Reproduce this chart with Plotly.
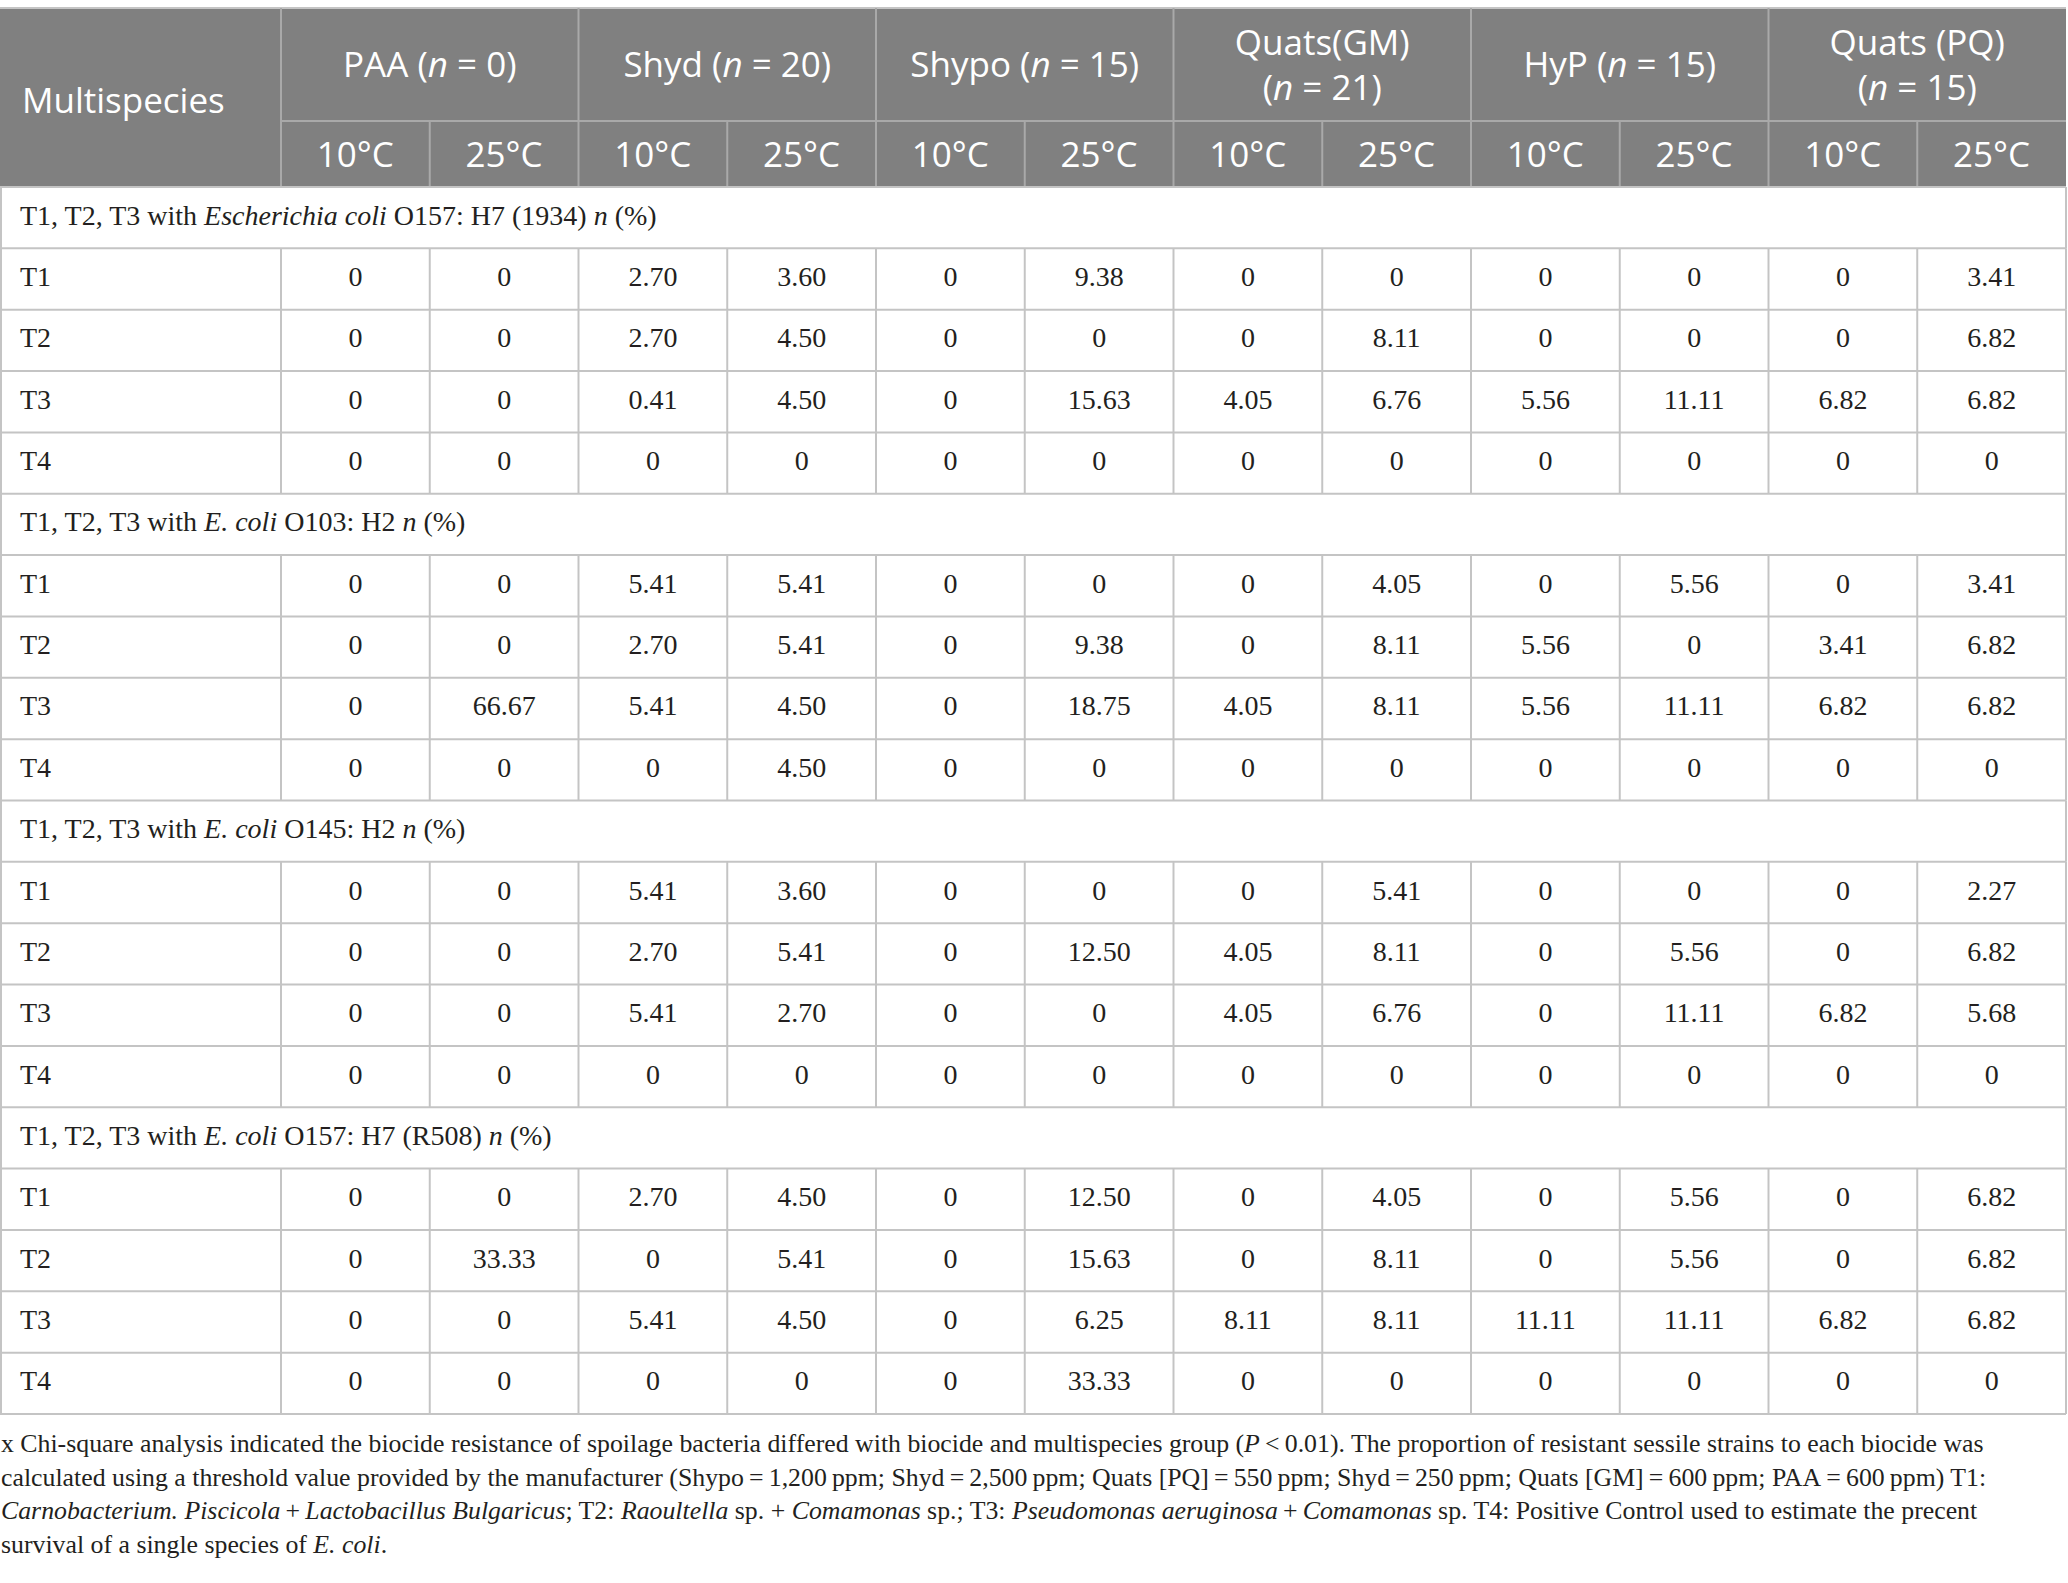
import plotly.graph_objects as go

# ---- data ----
biocides = ["PAA (<i>n</i> = 0)", "Shyd (<i>n</i> = 20)", "Shypo (<i>n</i> = 15)",
            "Quats(GM)<br>(<i>n</i> = 21)", "HyP (<i>n</i> = 15)", "Quats (PQ)<br>(<i>n</i> = 15)"]
temps = ["10°C", "25°C"]
treatments = ["T1", "T2", "T3", "T4"]
groups = [
    "T1, T2, T3 with <i>Escherichia coli</i> O157: H7 (1934) <i>n</i> (%)",
    "T1, T2, T3 with <i>E. coli</i> O103: H2 <i>n</i> (%)",
    "T1, T2, T3 with <i>E. coli</i> O145: H2 <i>n</i> (%)",
    "T1, T2, T3 with <i>E. coli</i> O157: H7 (R508) <i>n</i> (%)",
]
o157_1934 = [
    ["0", "0", "2.70", "3.60", "0", "9.38", "0", "0", "0", "0", "0", "3.41"],
    ["0", "0", "2.70", "4.50", "0", "0", "0", "8.11", "0", "0", "0", "6.82"],
    ["0", "0", "0.41", "4.50", "0", "15.63", "4.05", "6.76", "5.56", "11.11", "6.82", "6.82"],
    ["0", "0", "0", "0", "0", "0", "0", "0", "0", "0", "0", "0"],
]
o103 = [
    ["0", "0", "5.41", "5.41", "0", "0", "0", "4.05", "0", "5.56", "0", "3.41"],
    ["0", "0", "2.70", "5.41", "0", "9.38", "0", "8.11", "5.56", "0", "3.41", "6.82"],
    ["0", "66.67", "5.41", "4.50", "0", "18.75", "4.05", "8.11", "5.56", "11.11", "6.82", "6.82"],
    ["0", "0", "0", "4.50", "0", "0", "0", "0", "0", "0", "0", "0"],
]
o145 = [
    ["0", "0", "5.41", "3.60", "0", "0", "0", "5.41", "0", "0", "0", "2.27"],
    ["0", "0", "2.70", "5.41", "0", "12.50", "4.05", "8.11", "0", "5.56", "0", "6.82"],
    ["0", "0", "5.41", "2.70", "0", "0", "4.05", "6.76", "0", "11.11", "6.82", "5.68"],
    ["0", "0", "0", "0", "0", "0", "0", "0", "0", "0", "0", "0"],
]
o157_r508 = [
    ["0", "0", "2.70", "4.50", "0", "12.50", "0", "4.05", "0", "5.56", "0", "6.82"],
    ["0", "33.33", "0", "5.41", "0", "15.63", "0", "8.11", "0", "5.56", "0", "6.82"],
    ["0", "0", "5.41", "4.50", "0", "6.25", "8.11", "8.11", "11.11", "11.11", "6.82", "6.82"],
    ["0", "0", "0", "0", "0", "33.33", "0", "0", "0", "0", "0", "0"],
]
group_values = [o157_1934, o103, o145, o157_r508]
footnote = [
    "x Chi-square analysis indicated the biocide resistance of spoilage bacteria differed with biocide and "
    "multispecies group (<i>P</i>\u2009&lt;\u20090.01). The proportion of resistant sessile strains to each biocide was",
    "calculated using a threshold value provided by the manufacturer (Shypo\u2009=\u20091,200\u2009ppm; "
    "Shyd\u2009=\u20092,500\u2009ppm; Quats [PQ]\u2009=\u2009550\u2009ppm; Shyd\u2009=\u2009250\u2009ppm; "
    "Quats [GM]\u2009=\u2009600\u2009ppm; PAA\u2009=\u2009600\u2009ppm) T1:",
    "<i>Carnobacterium. Piscicola</i>\u2009+\u2009<i>Lactobacillus Bulgaricus</i>; T2: <i>Raoultella</i> sp. + "
    "<i>Comamonas</i> sp.; T3: <i>Pseudomonas aeruginosa</i>\u2009+\u2009<i>Comamonas</i> sp. "
    "T4: Positive Control used to estimate the precent",
    "survival of a single species of <i>E. coli</i>.",
]

# ---- layout geometry (pixels) ----
W, H = 2068, 1583
left_w = 281
right = 2066
ncol = len(biocides) * len(temps)
cw = (right - left_w) / ncol
xe = [0, left_w] + [left_w + cw * (k + 1) for k in range(ncol)]
top, hsplit, hbot = 8, 121, 187
rh = 61.35
head_dy = 4  # header text sits a little low in its cells
foot_y0, foot_dy = 1446, 33.4

HEAD_BG = "#808080"
HEAD_LINE = "#a9a9a9"
GRID = "#c4c4c4"
TXT = "#231f20"
SANS = "Open Sans"
SERIF = "Liberation Serif"

fig = go.Figure()
shapes = []


def hline(x0, x1, y, color):
    shapes.append(dict(type="line", x0=x0, x1=x1, y0=y, y1=y, line=dict(color=color, width=2)))


def vline(x, y0, y1, color):
    shapes.append(dict(type="line", x0=x, x1=x, y0=y0, y1=y1, line=dict(color=color, width=2)))


# header block
shapes.append(dict(type="rect", x0=0, x1=right, y0=top, y1=hbot, fillcolor=HEAD_BG, line=dict(width=0), layer="below"))
hline(0, right, top, GRID)
hline(left_w, right, hsplit, HEAD_LINE)
for k in range(1, ncol + 1):
    if (k - 1) % 2 == 0:
        vline(xe[k], top, hbot, HEAD_LINE)
    else:
        vline(xe[k], hsplit, hbot, HEAD_LINE)
hline(0, right, hbot, GRID)

# body rows
rows = []  # (kind, label, values)
for g, label in enumerate(groups):
    rows.append(("group", label, None))
    for t, tr in enumerate(treatments):
        rows.append(("data", tr, group_values[g][t]))

y = hbot
row_centers = []
for kind, label, vals in rows:
    y1 = y + rh
    vline(1, y, y1, GRID)
    vline(right, y, y1, GRID)
    if kind == "data":
        for k in range(1, ncol + 1):
            vline(xe[k], y, y1, GRID)
    hline(0, right, y1, GRID)
    row_centers.append((y + y1) / 2)
    y = y1

# header text
fig.add_trace(go.Scatter(
    x=[22], y=[(top + hbot) / 2 + head_dy + 3], text=["Multispecies"], mode="text",
    textposition="middle right", textfont=dict(family=SANS, size=35, color="white")))
fig.add_trace(go.Scatter(
    x=[(xe[1 + 2 * i] + xe[3 + 2 * i]) / 2 for i in range(len(biocides))],
    y=[(top + hsplit) / 2 + head_dy] * len(biocides), text=biocides, mode="text",
    textposition="middle center", textfont=dict(family=SANS, size=35, color="white")))
fig.add_trace(go.Scatter(
    x=[(xe[k] + xe[k + 1]) / 2 for k in range(1, ncol + 1)],
    y=[(hsplit + hbot) / 2 + head_dy] * ncol, text=temps * len(biocides), mode="text",
    textposition="middle center", textfont=dict(family=SANS, size=35, color="white")))

# body text
lab_x, lab_y, lab_t = [], [], []
val_x, val_y, val_t = [], [], []
for (kind, label, vals), yc in zip(rows, row_centers):
    lab_x.append(20)
    lab_y.append(yc)
    lab_t.append(label)
    if vals is not None:
        for k, v in enumerate(vals):
            val_x.append((xe[k + 1] + xe[k + 2]) / 2)
            val_y.append(yc)
            val_t.append(v)

fig.add_trace(go.Scatter(
    x=lab_x, y=lab_y, text=lab_t, mode="text", textposition="middle right",
    textfont=dict(family=SERIF, size=28, color=TXT)))
fig.add_trace(go.Scatter(
    x=val_x, y=val_y, text=val_t, mode="text", textposition="middle center",
    textfont=dict(family=SERIF, size=28, color=TXT)))

# footnote
fig.add_trace(go.Scatter(
    x=[1] * len(footnote), y=[foot_y0 + i * foot_dy for i in range(len(footnote))],
    text=footnote, mode="text", textposition="middle right",
    textfont=dict(family=SERIF, size=25.8, color=TXT)))

fig.update_traces(hoverinfo="skip", cliponaxis=False)
fig.update_layout(
    width=W, height=H, margin=dict(l=0, r=0, t=0, b=0),
    paper_bgcolor="white", plot_bgcolor="white", showlegend=False,
    shapes=shapes,
    xaxis=dict(range=[0, W], visible=False, fixedrange=True),
    yaxis=dict(range=[H, 0], visible=False, fixedrange=True),
)

fig.write_html("out.html", config={"displayModeBar": False},
               post_script="document.body.style.margin = '0';")
